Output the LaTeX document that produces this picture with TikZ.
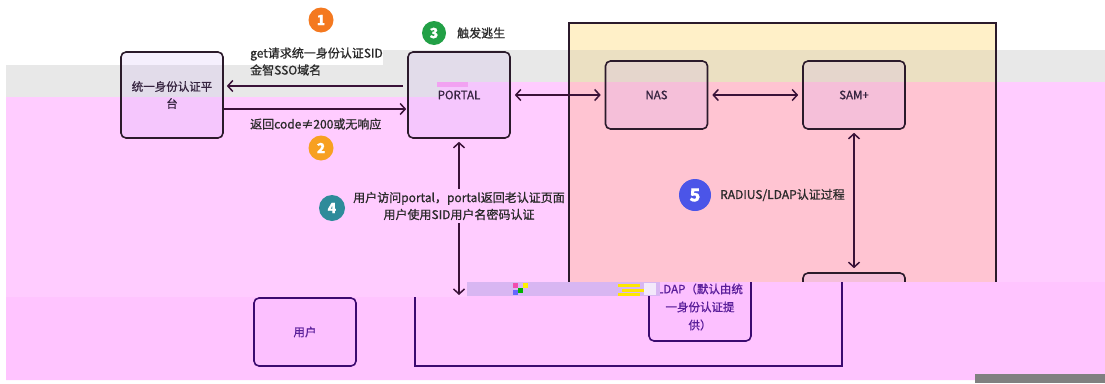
\documentclass[tikz,border=0pt]{standalone}
\usepackage{fontspec}
\setmainfont{Noto Sans CJK SC}[RawFeature={embolden=0.9}]
\usetikzlibrary{arrows.meta}
\definecolor{bandgray}{HTML}{E8E8E8}
\definecolor{bandpink}{HTML}{FFCCFF}
\definecolor{lowpink}{HTML}{FFC4FF}
\definecolor{contY}{HTML}{FFF0C8}
\definecolor{contG}{HTML}{EBE0C2}
\definecolor{contP}{HTML}{FFC4D2}
\definecolor{boxline}{HTML}{2B1A2B}
\definecolor{arrcol}{HTML}{3A1238}
\definecolor{lowline}{HTML}{3C0A70}
\definecolor{lowtext}{HTML}{5A1E9A}
\definecolor{lowfill}{HTML}{FCC0FF}
\definecolor{txt}{HTML}{2A2A2A}
\definecolor{boxtxt}{HTML}{35233F}
\definecolor{boxtint}{RGB}{205,175,245}
\definecolor{noisecol}{HTML}{D8B6F2}
\definecolor{glitchpink}{HTML}{F2A2F2}
\definecolor{bOne}{HTML}{F47920}
\definecolor{bTwo}{HTML}{F7A021}
\definecolor{bThree}{HTML}{22A046}
\definecolor{bFour}{HTML}{2E8B9A}
\definecolor{bFive}{HTML}{4B55E8}
\definecolor{botgray}{HTML}{808080}
\begin{document}
\begin{tikzpicture}[x=1pt,y=-1pt,
  box/.style={draw=boxline, line width=1.6pt, rounded corners=5pt,
    fill=boxtint, fill opacity=0.2, text opacity=1, text=boxtxt,
    minimum width=102pt, inner sep=0pt, align=center,
    font=\fontsize{11.5}{17}\selectfont},
  lowbox/.style={draw=lowline, line width=1.6pt, rounded corners=5pt,
    fill=lowfill, text=lowtext, minimum width=102pt, inner sep=0pt,
    align=center, font=\fontsize{11.5}{18}\selectfont},
  badge/.style={circle, text=white, inner sep=0pt, minimum size=25pt,
    font=\bfseries\fontsize{14}{14}\selectfont},
  lbl/.style={text=txt, inner sep=3pt, font=\fontsize{12}{17}\selectfont},
  arr/.style={draw=arrcol, line width=1.5pt, -{Straight Barb[length=5pt,width=11pt]}},
  darr/.style={draw=arrcol, line width=1.5pt, {Straight Barb[length=5pt,width=11pt]}-{Straight Barb[length=5pt,width=11pt]}}]
\useasboundingbox (0,0) rectangle (1105,383);
\fill[white] (0,0) rectangle (1105,383);
% background bands
\fill[bandgray] (6,65) -- (383,65) -- (383,50) -- (1105,50) -- (1105,82) -- (440,82) -- (440,97) -- (6,97) -- cycle;
\fill[bandpink] (6,97) -- (440,97) -- (440,82) -- (1105,82) -- (1105,300) -- (6,300) -- cycle;
% container
\fill[contY] (569,23) rectangle (996,50);
\fill[contG] (569,50) rectangle (996,82);
\fill[contP] (569,82) rectangle (996,300);
\draw[boxline, line width=1.6pt] (569,300) -- (569,23) -- (996,23) -- (996,300);
% boxes
\node[box, minimum height=86pt] (idp) at (172,95) {统一身份认证平\\台};
\node[box, minimum height=86pt] (portal) at (459,95) {PORTAL};
\node[box, minimum height=68pt] (nas) at (656.5,95) {NAS};
\node[box, minimum height=68pt] (sam) at (854,95) {SAM+};
\node[box, minimum height=68pt] (sam2) at (854,307) {};
\fill[glitchpink] (437,82) rectangle (468,87);
% badges
\node[badge, fill=bOne] (b1) at (321,20) {1};
\node[badge, fill=bTwo] (b2) at (321,148) {2};
\node[badge, fill=bThree, minimum size=24pt] (b3) at (434,33) {3};
\node[badge, fill=bFour, minimum size=26pt] (b4) at (332,208) {4};
\node[badge, fill=bFive, minimum size=32pt, font=\bfseries\fontsize{18}{18}\selectfont] (b5) at (695,195) {5};
% labels
\node[lbl, anchor=west, align=left] (l1) at (247,61.5) {get请求统一身份认证SID\\金智SSO域名};
\node[lbl, anchor=west] (l2) at (247,124) {返回code≠200或无响应};
\node[lbl, anchor=west] (l3) at (454,33) {触发逃生};
\node[lbl, align=center] (l4) at (459,206) {用户访问portal，portal返回老认证页面\\用户使用SID用户名密码认证};
\node[lbl, anchor=west] (l5) at (717,195) {RADIUS/LDAP认证过程};
% arrows
\draw[arr, shorten <=4pt, shorten >=3pt] ([yshift=9pt]portal.west) -- ([yshift=9pt]idp.east);
\draw[arr, shorten >=1pt] ([yshift=-14pt]idp.east) -- ([yshift=-14pt]portal.west);
\draw[darr, shorten <=4pt, shorten >=4pt] (portal.east) -- (nas.west);
\draw[darr, shorten <=4pt, shorten >=4pt] (nas.east) -- (sam.west);
\draw[darr, shorten <=3pt, shorten >=4pt] (sam.south) -- (sam2.north);
\draw[arr, shorten >=3pt] (l4.north) -- (portal.south);
\coordinate (uend) at (459,295);
\draw[arr] (l4.south) -- (uend);
% lower (shifted) slice
\fill[lowpink] (6,297) -- (467,297) -- (467,282) -- (1105,282) -- (1105,380) -- (6,380) -- cycle;
\draw[lowline, line width=1.6pt] (415,297) -- (415,366) -- (842,366) -- (842,282);
\begin{scope}
  \clip (600,282) rectangle (800,400);
  \node[lowbox, minimum height=80pt] (ldap) at (700,301) {};
\end{scope}
\node[text=lowtext, align=center, inner sep=0pt, font=\fontsize{11.5}{18}\selectfont] (ldaptxt) at (700,307) {LDAP（默认由统\\一身份认证提\\供）};
\node[lowbox, minimum height=68pt] (user) at (305,332) {用户};
% noise strip
\fill[noisecol] (467,282) rectangle (660,296);
\fill[magenta!70] (513,283) rectangle (518,288);
\fill[green!70!black] (518,288) rectangle (523,293);
\fill[yellow] (523,283) rectangle (528,288);
\fill[blue!60] (513,290) rectangle (518,295);
\fill[yellow!90!orange] (618,284) rectangle (640,286.5);
\fill[yellow!90!orange] (622,289) rectangle (644,291.5);
\fill[yellow!90!orange] (618,293) rectangle (640,295.5);
\fill[white!70!noisecol] (644,283) rectangle (656,295);
% bottom gray strip
\fill[botgray] (975,374) rectangle (1105,383);
\end{tikzpicture}
\end{document}
